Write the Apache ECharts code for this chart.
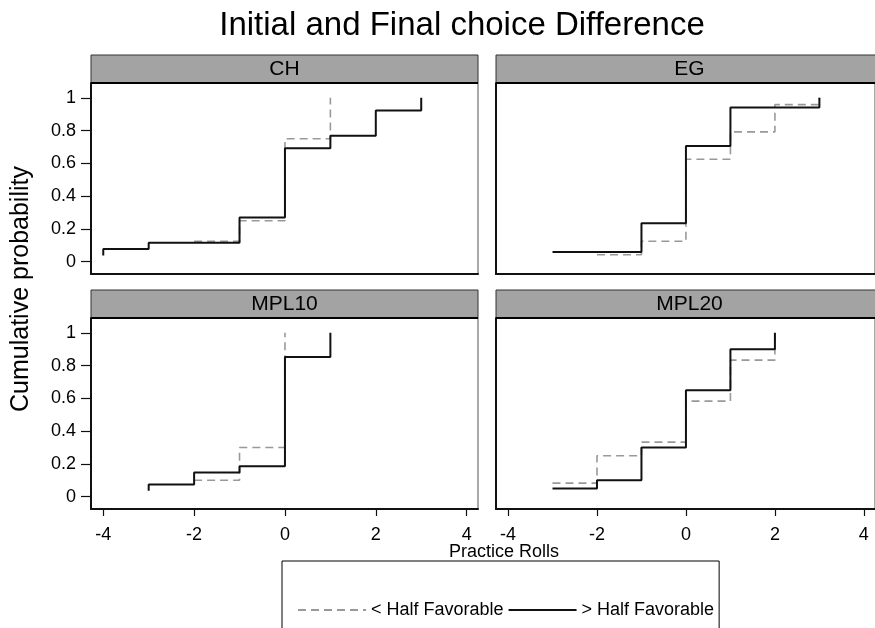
<!DOCTYPE html>
<html>
<head>
<meta charset="utf-8">
<script src="https://cdn.jsdelivr.net/npm/echarts@6/dist/echarts.min.js"></script>
<style>
  html, body { margin: 0; padding: 0; background: #ffffff; }
  #chart { width: 875px; height: 628px; }
</style>
</head>
<body>
<div id="chart"></div>
<script>
// ---- data -------------------------------------------------------------
const panelNames = ['CH', 'EG', 'MPL10', 'MPL20'];
const xTickValues = [-4, -2, 0, 2, 4];
const yTickValues = [0, 0.2, 0.4, 0.6, 0.8, 1];
const seriesNames = ['< Half Favorable', '> Half Favorable'];

// Practice-roll difference (x) and cumulative probability (y), in stairstep order
const chBelowX = [-2, -1, 0, 1];
const chBelowY = [0.125, 0.25, 0.75, 1];
const chAboveX = [-4, -4, -3, -1, 0, 1, 2, 3];
const chAboveY = [0.038, 0.077, 0.115, 0.269, 0.692, 0.769, 0.923, 1];

const egBelowX = [-2, -1, 0, 1, 2, 3];
const egBelowY = [0.042, 0.125, 0.625, 0.792, 0.958, 1];
const egAboveX = [-3, -1, 0, 1, 3];
const egAboveY = [0.059, 0.235, 0.706, 0.941, 1];

const mpl10BelowX = [-2, -1, 0];
const mpl10BelowY = [0.1, 0.3, 1];
const mpl10AboveX = [-3, -3, -2, -1, 0, 1];
const mpl10AboveY = [0.037, 0.074, 0.148, 0.185, 0.852, 1];

const mpl20BelowX = [-3, -2, -1, 0, 1, 2];
const mpl20BelowY = [0.083, 0.25, 0.333, 0.583, 0.833, 1];
const mpl20AboveX = [-3, -2, -1, 0, 1, 2];
const mpl20AboveY = [0.05, 0.1, 0.3, 0.65, 0.9, 1];

const belowGroups = [[chBelowX, chBelowY], [egBelowX, egBelowY], [mpl10BelowX, mpl10BelowY], [mpl20BelowX, mpl20BelowY]];
const aboveGroups = [[chAboveX, chAboveY], [egAboveX, egAboveY], [mpl10AboveX, mpl10AboveY], [mpl20AboveX, mpl20AboveY]];

// ---- layout -----------------------------------------------------------
const FONT = 'Liberation Sans, Arial, Helvetica, sans-serif';
const PLOT_W = 387, PLOT_H = 191, HEAD_H = 28;
const colLeft = [91, 496];
const rowTop = [83, 318];
const X_MIN = -4.27, X_MAX = 4.25;
const Y_MIN = -0.075, Y_MAX = 1.09;
const BELOW_COLOR = '#999', ABOVE_COLOR = '#111';

const zip = (xs, ys) => xs.map((x, i) => [x, ys[i]]);

const grids = [], xAxes = [], yAxes = [], series = [], graphics = [];

panelNames.forEach((name, i) => {
  const col = i % 2, row = Math.floor(i / 2);
  const left = colLeft[col], top = rowTop[row];
  grids.push({
    left: left, top: top, width: PLOT_W, height: PLOT_H,
    show: true, borderColor: '#555', borderWidth: 1, backgroundColor: '#fff'
  });
  xAxes.push({
    type: 'value', gridIndex: i, min: X_MIN, max: X_MAX,
    axisLine: { show: true, onZero: false, lineStyle: { color: '#111', width: 2 } },
    axisTick: { show: row === 1, customValues: xTickValues, length: 7, lineStyle: { color: '#111', width: 1.2 } },
    axisLabel: { show: row === 1, customValues: xTickValues, margin: 17, fontSize: 18, color: '#000', fontFamily: FONT },
    splitLine: { show: false }
  });
  yAxes.push({
    type: 'value', gridIndex: i, min: Y_MIN, max: Y_MAX,
    axisLine: { show: true, onZero: false, lineStyle: { color: '#111', width: 2 } },
    axisTick: { show: col === 0, customValues: yTickValues, length: 10, lineStyle: { color: '#111', width: 1.2 } },
    axisLabel: {
      show: col === 0, customValues: yTickValues, margin: 15, fontSize: 18, color: '#000', fontFamily: FONT,
      formatter: v => (v === 0 || v === 1) ? String(v) : v.toFixed(1)
    },
    splitLine: { show: false }
  });
  series.push({
    name: seriesNames[0], type: 'line', xAxisIndex: i, yAxisIndex: i,
    step: 'end', symbol: 'none', silent: true, animation: false, z: 2,
    itemStyle: { color: BELOW_COLOR },
    lineStyle: { color: BELOW_COLOR, width: 1.6, type: [8, 5] },
    data: zip(belowGroups[i][0], belowGroups[i][1])
  });
  series.push({
    name: seriesNames[1], type: 'line', xAxisIndex: i, yAxisIndex: i,
    step: 'end', symbol: 'none', silent: true, animation: false, z: 3,
    itemStyle: { color: ABOVE_COLOR },
    lineStyle: { color: ABOVE_COLOR, width: 2, type: 'solid' },
    data: zip(aboveGroups[i][0], aboveGroups[i][1])
  });
  // panel header strip
  graphics.push({
    type: 'rect', z: 10,
    shape: { x: left, y: top - HEAD_H, width: PLOT_W, height: HEAD_H },
    style: { fill: '#a3a3a3', stroke: '#333', lineWidth: 1 }
  });
  graphics.push({
    type: 'line', z: 11,
    shape: { x1: left, y1: top, x2: left + PLOT_W, y2: top },
    style: { stroke: '#000', lineWidth: 2 }
  });
  graphics.push({
    type: 'text', z: 12,
    x: left + PLOT_W / 2, y: top - HEAD_H / 2,
    style: { text: name, fill: '#000', font: '21px ' + FONT, textAlign: 'center', textVerticalAlign: 'middle' }
  });
});

// titles
graphics.push({
  type: 'text', x: 462, y: 26,
  style: { text: 'Initial and Final choice Difference', fill: '#000', font: '33px ' + FONT, textAlign: 'center', textVerticalAlign: 'middle' }
});
graphics.push({
  type: 'text', x: 21, y: 289, rotation: Math.PI / 2,
  style: { text: 'Cumulative probability', fill: '#000', font: '25px ' + FONT, textAlign: 'center', textVerticalAlign: 'middle' }
});
graphics.push({
  type: 'text', x: 504, y: 552,
  style: { text: 'Practice Rolls', fill: '#000', font: '18px ' + FONT, textAlign: 'center', textVerticalAlign: 'middle' }
});

const chart = echarts.init(document.getElementById('chart'), null, { renderer: 'canvas' });
chart.setOption({
  animation: false,
  backgroundColor: '#fff',
  grid: grids,
  xAxis: xAxes,
  yAxis: yAxes,
  series: series,
  legend: {
    data: seriesNames,
    left: 282, top: 561,
    orient: 'horizontal',
    padding: [40, 5, 40, 15],
    itemWidth: 68, itemHeight: 14, itemGap: 4,
    borderColor: '#000', borderWidth: 1,
    backgroundColor: '#fff',
    selectedMode: false,
    itemStyle: { opacity: 0 },
    textStyle: { fontSize: 18, color: '#000', fontFamily: FONT }
  },
  graphic: graphics
});
</script>
</body>
</html>
